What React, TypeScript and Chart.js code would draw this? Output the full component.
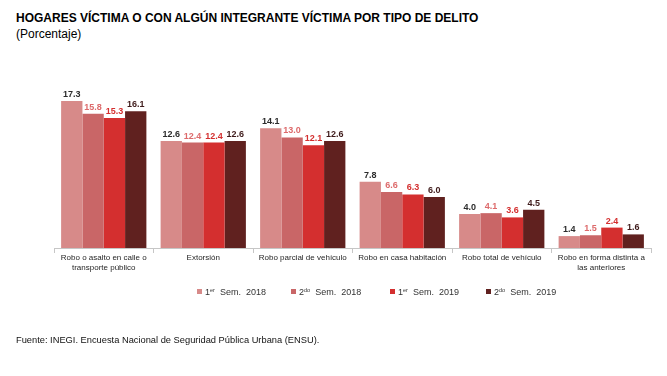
import React, { useEffect, useRef } from "react";
import { Chart, registerables } from "chart.js";

Chart.register(...registerables);

const categories: string[][] = [
  ["Robo o asalto en calle o", "transporte público"],
  ["Extorsión"],
  ["Robo parcial de vehículo"],
  ["Robo en casa habitación"],
  ["Robo total de vehículo"],
  ["Robo en forma distinta a", "las anteriores"],
];

const sem1_2018 = [17.3, 12.6, 14.1, 7.8, 4.0, 1.4];
const sem2_2018 = [15.8, 12.4, 13.0, 6.6, 4.1, 1.5];
const sem1_2019 = [15.3, 12.4, 12.1, 6.3, 3.6, 2.4];
const sem2_2019 = [16.1, 12.6, 12.6, 6.0, 4.5, 1.6];

const seriesNames = [
  { num: "1", sup: "er", rest: "  Sem.  2018" },
  { num: "2", sup: "do", rest: "  Sem.  2018" },
  { num: "1", sup: "er", rest: "  Sem.  2019" },
  { num: "2", sup: "do", rest: "  Sem.  2019" },
];

const barColors = ["#d78a89", "#c96667", "#d42f2f", "#60211f"];
const labelColors = ["#2b2b2b", "#dd6a6b", "#d42f2f", "#3e1a1a"];

const FONT = "'Liberation Sans', Arial, sans-serif";

const valueLabels = {
  id: "valueLabels",
  afterDatasetsDraw(chart: any) {
    const ctx = chart.ctx;
    ctx.save();
    ctx.font = `bold 9px ${FONT}`;
    ctx.textAlign = "center";
    ctx.textBaseline = "bottom";
    chart.data.datasets.forEach((ds: any, i: number) => {
      const meta = chart.getDatasetMeta(i);
      meta.data.forEach((el: any, j: number) => {
        ctx.fillStyle = labelColors[i];
        ctx.fillText(Number(ds.data[j]).toFixed(1), el.x, el.y - 2);
      });
    });
    ctx.restore();
  },
};

export default function App() {
  const ref = useRef<HTMLCanvasElement>(null);

  useEffect(() => {
    if (!ref.current) return;
    const series = [sem1_2018, sem2_2018, sem1_2019, sem2_2019];
    const chart = new Chart(ref.current, {
      type: "bar",
      data: {
        labels: categories,
        datasets: series.map((d, i) => ({
          label: seriesNames[i].num + seriesNames[i].sup + seriesNames[i].rest,
          data: d,
          backgroundColor: barColors[i],
          borderWidth: 0,
          categoryPercentage: 0.857,
          barPercentage: 1,
        })),
      },
      options: {
        animation: false,
        responsive: false,
        maintainAspectRatio: false,
        devicePixelRatio: 1,
        layout: { padding: { left: 54, right: 16, top: 78, bottom: 88 } },
        plugins: {
          legend: { display: false },
          tooltip: { enabled: false },
          title: { display: false },
        },
        scales: {
          x: {
            afterFit: (scale: any) => {
              scale.height = 40;
            },
            border: { display: true, color: "#c6c6c6", width: 1 },
            grid: {
              display: true,
              offset: true,
              drawOnChartArea: false,
              drawTicks: true,
              tickLength: 5,
              color: "#c6c6c6",
            },
            ticks: {
              color: "#262626",
              padding: 0,
              maxRotation: 0,
              autoSkip: false,
              font: { family: FONT, size: 8, lineHeight: 1.2 },
            },
          },
          y: {
            display: false,
            min: 0,
            max: 20,
          },
        },
      },
      plugins: [valueLabels],
    });
    return () => chart.destroy();
  }, []);

  const legendX = [197, 291, 390, 486];

  return (
    <div
      style={{
        position: "absolute",
        left: 0,
        top: 0,
        width: 667,
        height: 376,
        background: "#fff",
        fontFamily: FONT,
        color: "#000",
      }}
    >
      <div
        style={{
          position: "absolute",
          left: 16,
          top: 11,
          fontSize: 12,
          fontWeight: "bold",
          whiteSpace: "nowrap",
        }}
      >
        HOGARES VÍCTIMA O CON ALGÚN INTEGRANTE VÍCTIMA POR TIPO DE DELITO
      </div>
      <div
        style={{
          position: "absolute",
          left: 16,
          top: 27,
          fontSize: 12,
          whiteSpace: "nowrap",
        }}
      >
        (Porcentaje)
      </div>
      <canvas
        ref={ref}
        width={667}
        height={376}
        style={{ position: "absolute", left: 0, top: 0, width: 667, height: 376 }}
      />
      {seriesNames.map((s, i) => (
        <div
          key={i}
          style={{
            position: "absolute",
            left: legendX[i],
            top: 284,
            fontSize: 9,
            color: "#333",
            whiteSpace: "pre",
            display: "flex",
            alignItems: "center",
            lineHeight: "12px",
          }}
        >
          <span
            style={{
              display: "inline-block",
              width: 5,
              height: 5,
              background: barColors[i],
              marginRight: 3,
            }}
          />
          <span style={{ whiteSpace: "pre" }}>
            {s.num}
            <sup style={{ fontSize: 5.5, verticalAlign: "3px" }}>{s.sup}</sup>
            {s.rest}
          </span>
        </div>
      ))}
      <div
        style={{
          position: "absolute",
          left: 16,
          top: 335,
          fontSize: 9.3,
          color: "#111",
          whiteSpace: "nowrap",
        }}
      >
        Fuente: INEGI. Encuesta Nacional de Seguridad Pública Urbana (ENSU).
      </div>
    </div>
  );
}
